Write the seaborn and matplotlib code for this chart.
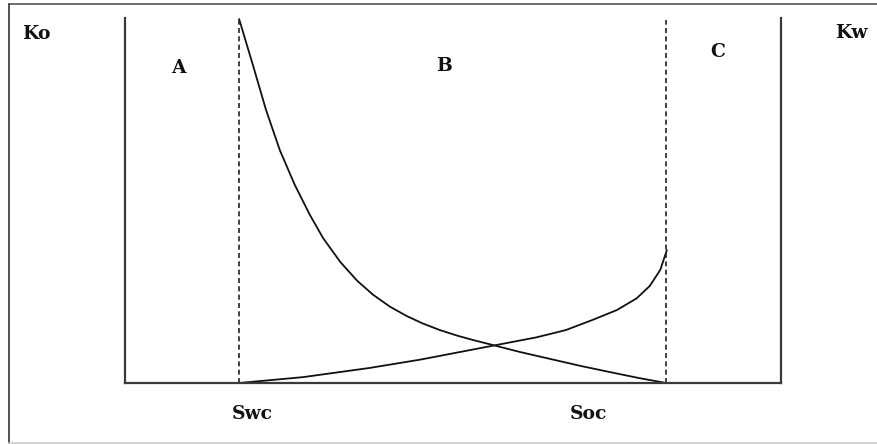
import numpy as np
import pandas as pd
import matplotlib
matplotlib.use("Agg")
import matplotlib.pyplot as plt
import seaborn as sns
from matplotlib.lines import Line2D

sns.set_style("white")
plt.rcParams['font.family'] = ['DejaVu Serif']

# values (saturation 0..1, relative permeability 0..1)
swc = 0.174
soc = 0.825
ko_x = [0.174, 0.195, 0.215, 0.236, 0.259, 0.282, 0.302, 0.328, 0.354, 0.378,
        0.404, 0.430, 0.454, 0.480, 0.506, 0.530, 0.563, 0.602, 0.648, 0.694,
        0.739, 0.785, 0.825]
ko_y = [0.997, 0.871, 0.748, 0.638, 0.542, 0.460, 0.397, 0.332, 0.280, 0.242,
        0.209, 0.183, 0.163, 0.145, 0.130, 0.118, 0.103, 0.085, 0.066, 0.047,
        0.030, 0.013, 0.0]
kw_x = [0.174, 0.271, 0.372, 0.450, 0.563, 0.627, 0.672, 0.713, 0.750, 0.780,
        0.800, 0.816, 0.826]
kw_y = [0.0, 0.016, 0.041, 0.064, 0.103, 0.125, 0.145, 0.173, 0.200, 0.232,
        0.266, 0.310, 0.364]
region_labels = ["A", "B", "C"]

W, H = 877, 444
fig = plt.figure(figsize=(W / 100, H / 100), dpi=100)

def px(x, y):
    return x / W, 1 - y / H

# axes box: left 125, right 781, bottom 383, top 18 (pixels)
ax = fig.add_axes([125 / W, 1 - 383 / H, (781 - 125) / W, (383 - 18) / H])
ax.set_xlim(0, 1)
ax.set_ylim(0, 1)

ko = pd.DataFrame({"x": ko_x, "y": ko_y})
kw = pd.DataFrame({"x": kw_x, "y": kw_y})
sns.lineplot(data=ko, x="x", y="y", color="#111111", lw=1.3, ax=ax)
sns.lineplot(data=kw, x="x", y="y", color="#111111", lw=1.3, ax=ax)

for xv in [swc, soc]:
    ax.axvline(xv, ymin=0, ymax=0.995, color="#222222", lw=1.2, ls=(0, (3, 2)))

ax.set_xticks([])
ax.set_yticks([])
ax.set_xlabel("")
ax.set_ylabel("")
ax.spines["top"].set_visible(False)
for s in ["left", "right", "bottom"]:
    ax.spines[s].set_visible(True)
    ax.spines[s].set_color("#3a3a3a")
    ax.spines[s].set_linewidth(1.6)

# outer frame of the picture
fig.add_artist(Line2D([9 / W, 1], [1 - 4 / H, 1 - 4 / H], color="#555555", lw=1.2))
fig.add_artist(Line2D([9 / W, 9 / W], [1 - 4 / H, 1 - 443 / H], color="#333333", lw=1.2))
fig.add_artist(Line2D([9 / W, 1], [1 - 443 / H, 1 - 443 / H], color="#cccccc", lw=1.2))

tkw = dict(fontsize=13.5, fontweight="bold", va="center", color="#111111")
fig.text(*px(22, 34), "Ko", ha="left", **tkw)
fig.text(*px(835, 33), "Kw", ha="left", **tkw)
for lab, (x, y) in zip(region_labels, [(178, 68), (444, 66), (718, 52)]):
    fig.text(*px(x, y), lab, ha="center", **tkw)
fig.text(*px(252, 414), "Swc", ha="center", **tkw)
fig.text(*px(588, 414), "Soc", ha="center", **tkw)

fig.savefig("out.png", dpi=100)
